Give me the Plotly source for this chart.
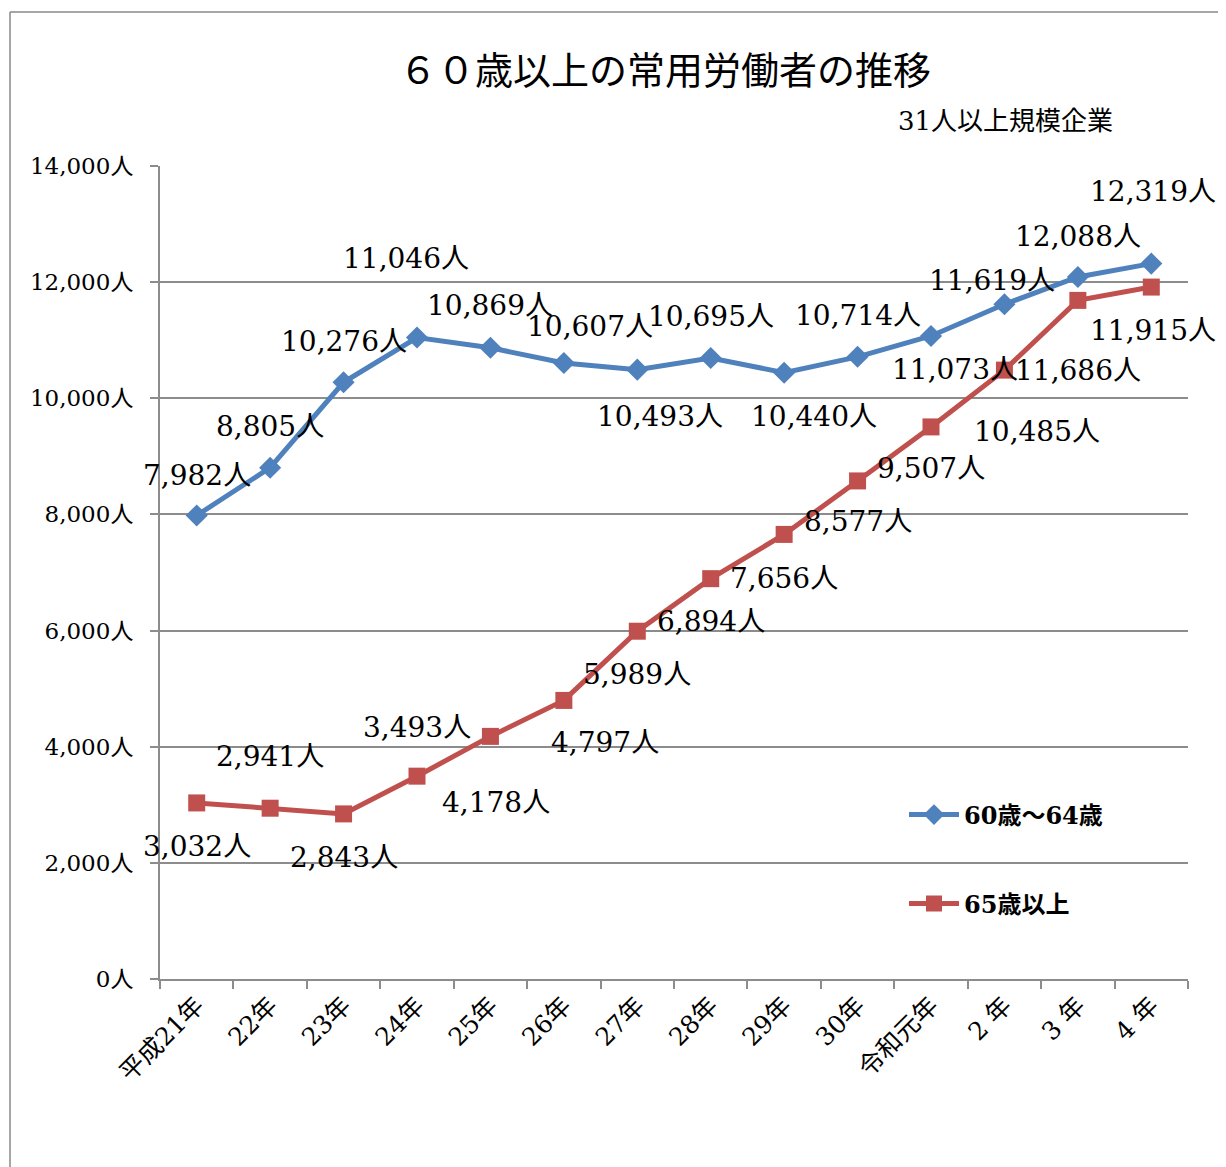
import plotly.graph_objects as go

categories = ["平成21年", "22年", "23年", "24年", "25年", "26年", "27年",
              "28年", "29年", "30年", "令和元年", "2 年", "3 年", "4 年"]
age_60_64 = [7982, 8805, 10276, 11046, 10869, 10607, 10493,
             10695, 10440, 10714, 11073, 11619, 12088, 12319]
age_65_plus = [3032, 2941, 2843, 3493, 4178, 4797, 5989,
               6894, 7656, 8577, 9507, 10485, 11686, 11915]
y_ticks = [0, 2000, 4000, 6000, 8000, 10000, 12000, 14000]
y_tick_text = [f"{v:,}人" for v in y_ticks]

# label offsets (pixels) for data labels: (xshift, yshift)
off_blue = [(0, 40), (0, 41), (0, 41), (-11, 79), (0, 42), (26, 37), (23, -47),
            (0, 41), (30, -44), (0, 41), (24, -34), (-12, 24), (0, 41), (2, 72)]
off_red = [(0, -44), (0, 52), (0, -44), (0, 49), (6, -66), (41, -42), (0, -43),
           (0, -43), (0, -44), (0, -41), (0, -42), (33, -61), (0, -70), (2, -43)]

BLUE = "#4F81BD"
RED = "#C0504D"
GRID = "#8c8c8c"
FONT = "DejaVu Serif, Noto Sans CJK JP"

# page offset (browser body margin)
OFF = 8
W, H = 1226, 1167
L, T = 160 - OFF, 166 - OFF
pw, ph = 1028, 813
R, B = W - L - pw, H - T - ph


def px(x):
    return (x - OFF - L) / pw


def py(y):
    return (T + ph - (y - OFF)) / ph


fig = go.Figure()
fig.add_trace(go.Scatter(
    x=categories, y=age_60_64, name="60歳～64歳", mode="lines+markers",
    line=dict(color=BLUE, width=5), marker=dict(symbol="diamond", size=17, color=BLUE),
    legend="legend"))
fig.add_trace(go.Scatter(
    x=categories, y=age_65_plus, name="65歳以上", mode="lines+markers",
    line=dict(color=RED, width=5), marker=dict(symbol="square", size=17, color=RED),
    legend="legend2"))

annotations = []
for series, offs in ((age_60_64, off_blue), (age_65_plus, off_red)):
    for c, v, (dx, dy) in zip(categories, series, offs):
        annotations.append(dict(
            x=c, y=v, xref="x", yref="y", text=f"{v:,}人", showarrow=False,
            xshift=dx, yshift=dy, font=dict(family=FONT, size=28, color="#000")))

annotations.append(dict(x=px(665), y=py(67), xref="paper", yref="paper",
                        text="６０歳以上の常用労働者の推移", showarrow=False,
                        font=dict(family="Noto Sans CJK JP", size=38, color="#000"),
                        xanchor="center", yanchor="middle"))
annotations.append(dict(x=px(1005), y=py(121), xref="paper", yref="paper",
                        text="31人以上規模企業", showarrow=False,
                        font=dict(family=FONT, size=26, color="#000"),
                        xanchor="center", yanchor="middle"))

fig.update_layout(
    annotations=annotations,
    width=W, height=H,
    margin=dict(l=L, r=R, t=T, b=B, autoexpand=False),
    paper_bgcolor="white", plot_bgcolor="white",
    font=dict(family=FONT, color="#000"),
    xaxis=dict(type="category", range=[-0.5, 13.5], tickson="boundaries",
               ticks="outside", ticklen=8, tickcolor=GRID, tickwidth=1.5,
               showline=True, linecolor=GRID, linewidth=2, showgrid=False,
               tickangle=-45, tickfont=dict(family=FONT, size=25), automargin=False),
    yaxis=dict(range=[0, 14000], tickvals=y_ticks, ticktext=y_tick_text,
               ticks="outside", ticklen=8, tickcolor=GRID, tickwidth=1.5,
               ticklabelstandoff=12,
               showline=True, linecolor=GRID, linewidth=2,
               showgrid=True, gridcolor=GRID, gridwidth=1.5, zeroline=False,
               tickfont=dict(family=FONT, size=23), automargin=False),
    legend=dict(x=px(904), y=py(815), xanchor="left", yanchor="middle",
                itemwidth=50,
                bgcolor="rgba(0,0,0,0)", font=dict(family=FONT, size=24, weight="bold")),
    legend2=dict(x=px(904), y=py(904), xanchor="left", yanchor="middle",
                 itemwidth=50,
                 bgcolor="rgba(0,0,0,0)", font=dict(family=FONT, size=24, weight="bold")),
    showlegend=True,
)

# outer frame lines (left and top)
fig.add_shape(type="line", xref="paper", yref="paper",
              x0=px(10), x1=px(10), y0=py(12), y1=py(1175),
              line=dict(color="#888", width=1.5))
fig.add_shape(type="line", xref="paper", yref="paper",
              x0=px(10), x1=px(1240), y0=py(12), y1=py(12),
              line=dict(color="#888", width=1.5))

fig.write_html("out.html")
